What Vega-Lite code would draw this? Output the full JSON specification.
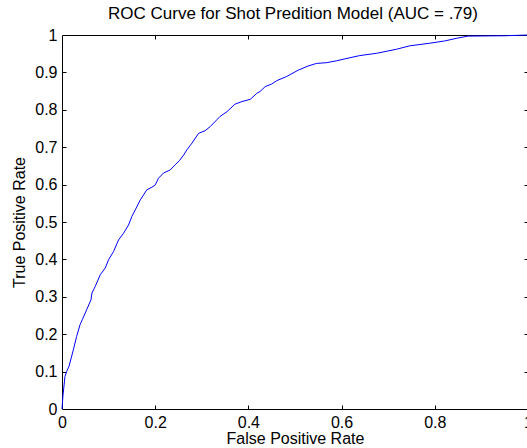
{
  "$schema": "https://vega.github.io/schema/vega-lite/v6.json",
  "width": 466,
  "height": 374,
  "autosize": {"type": "none"},
  "padding": {"left": 62, "top": 35, "right": 0, "bottom": 39},
  "background": "#ffffff",
  "config": {
    "view": {"stroke": "#000000", "strokeWidth": 1},
    "font": "Liberation Sans",
    "axis": {
      "grid": false,
      "domain": false,
      "labelFont": "Liberation Sans",
      "labelFontSize": 16,
      "labelColor": "#000000",
      "titleFont": "Liberation Sans",
      "titleFontSize": 16,
      "titleFontWeight": "normal",
      "titleColor": "#000000",
      "tickColor": "#000000",
      "labelFlush": false,
      "labelOverlap": false,
      "format": "~g"
    }
  },
  "title": {
    "text": "ROC Curve for Shot Predition Model (AUC = .79)",
    "font": "Liberation Sans",
    "fontSize": 17,
    "fontWeight": "normal",
    "color": "#000000",
    "anchor": "middle",
    "frame": "group",
    "offset": 4,
    "dx": -2
  },
  "data": {
    "values": [
      {"fpr": 0, "tpr": 0},
      {"fpr": 0.002, "tpr": 0.035},
      {"fpr": 0.0064, "tpr": 0.087},
      {"fpr": 0.0099, "tpr": 0.1},
      {"fpr": 0.015, "tpr": 0.114},
      {"fpr": 0.0243, "tpr": 0.158},
      {"fpr": 0.0314, "tpr": 0.194},
      {"fpr": 0.0386, "tpr": 0.225},
      {"fpr": 0.0436, "tpr": 0.239},
      {"fpr": 0.0528, "tpr": 0.265},
      {"fpr": 0.0622, "tpr": 0.292},
      {"fpr": 0.0643, "tpr": 0.31},
      {"fpr": 0.0714, "tpr": 0.328},
      {"fpr": 0.0821, "tpr": 0.359},
      {"fpr": 0.0928, "tpr": 0.377},
      {"fpr": 0.0999, "tpr": 0.399},
      {"fpr": 0.1106, "tpr": 0.421},
      {"fpr": 0.1213, "tpr": 0.452},
      {"fpr": 0.1321, "tpr": 0.47},
      {"fpr": 0.1428, "tpr": 0.492},
      {"fpr": 0.15, "tpr": 0.515},
      {"fpr": 0.157, "tpr": 0.532},
      {"fpr": 0.168, "tpr": 0.559},
      {"fpr": 0.182, "tpr": 0.586},
      {"fpr": 0.193, "tpr": 0.593},
      {"fpr": 0.2, "tpr": 0.599},
      {"fpr": 0.207, "tpr": 0.617},
      {"fpr": 0.218, "tpr": 0.631},
      {"fpr": 0.232, "tpr": 0.639},
      {"fpr": 0.243, "tpr": 0.653},
      {"fpr": 0.252, "tpr": 0.664},
      {"fpr": 0.261, "tpr": 0.679},
      {"fpr": 0.268, "tpr": 0.693},
      {"fpr": 0.279, "tpr": 0.711},
      {"fpr": 0.293, "tpr": 0.737},
      {"fpr": 0.307, "tpr": 0.744},
      {"fpr": 0.318, "tpr": 0.755},
      {"fpr": 0.332, "tpr": 0.773},
      {"fpr": 0.339, "tpr": 0.782},
      {"fpr": 0.354, "tpr": 0.795},
      {"fpr": 0.371, "tpr": 0.815},
      {"fpr": 0.386, "tpr": 0.822},
      {"fpr": 0.404, "tpr": 0.828},
      {"fpr": 0.418, "tpr": 0.844},
      {"fpr": 0.425, "tpr": 0.849},
      {"fpr": 0.436, "tpr": 0.862},
      {"fpr": 0.45, "tpr": 0.869},
      {"fpr": 0.461, "tpr": 0.878},
      {"fpr": 0.482, "tpr": 0.889},
      {"fpr": 0.507, "tpr": 0.906},
      {"fpr": 0.528, "tpr": 0.917},
      {"fpr": 0.546, "tpr": 0.924},
      {"fpr": 0.568, "tpr": 0.926},
      {"fpr": 0.589, "tpr": 0.931},
      {"fpr": 0.603, "tpr": 0.935},
      {"fpr": 0.639, "tpr": 0.945},
      {"fpr": 0.675, "tpr": 0.951},
      {"fpr": 0.718, "tpr": 0.962},
      {"fpr": 0.746, "tpr": 0.971},
      {"fpr": 0.789, "tpr": 0.978},
      {"fpr": 0.821, "tpr": 0.984},
      {"fpr": 0.846, "tpr": 0.991},
      {"fpr": 0.871, "tpr": 0.997},
      {"fpr": 0.95, "tpr": 0.998},
      {"fpr": 1, "tpr": 1}
    ]
  },
  "layer": [
    {
      "mark": {"type": "line", "color": "#0000ff", "strokeWidth": 1},
      "encoding": {
        "x": {
          "field": "fpr", "type": "quantitative",
          "scale": {"domain": [0, 1], "nice": false, "zero": false},
          "axis": {"orient": "bottom", "values": [0, 0.2, 0.4, 0.6, 0.8, 1], "ticks": false, "labelPadding": 5, "title": "False Positive Rate", "titlePadding": 0}
        },
        "y": {
          "field": "tpr", "type": "quantitative",
          "scale": {"domain": [0, 1], "nice": false, "zero": false},
          "axis": {"orient": "left", "values": [0, 0.1, 0.2, 0.3, 0.4, 0.5, 0.6, 0.7, 0.8, 0.9, 1], "ticks": false, "labelPadding": 5, "title": "True Positive Rate", "titlePadding": 7}
        }
      }
    },
    {
      "mark": {"type": "line", "opacity": 0},
      "encoding": {
        "x": {"field": "fpr", "type": "quantitative", "axis": {"orient": "bottom", "values": [0.2, 0.4, 0.6, 0.8], "labels": false, "tickSize": -4, "tickWidth": 1, "title": null}},
        "y": {"field": "tpr", "type": "quantitative", "axis": {"orient": "left", "values": [0.1, 0.2, 0.3, 0.4, 0.5, 0.6, 0.7, 0.8, 0.9], "labels": false, "tickSize": -4, "tickWidth": 1, "title": null}}
      }
    },
    {
      "mark": {"type": "line", "opacity": 0},
      "encoding": {
        "x": {"field": "fpr", "type": "quantitative", "axis": {"orient": "top", "values": [0.2, 0.4, 0.6, 0.8], "labels": false, "tickSize": -4, "tickWidth": 1, "title": null}},
        "y": {"field": "tpr", "type": "quantitative", "axis": {"orient": "right", "values": [0.1, 0.2, 0.3, 0.4, 0.5, 0.6, 0.7, 0.8, 0.9], "labels": false, "tickSize": -4, "tickWidth": 1, "title": null}}
      }
    }
  ],
  "resolve": {"axis": {"x": "independent", "y": "independent"}}
}
